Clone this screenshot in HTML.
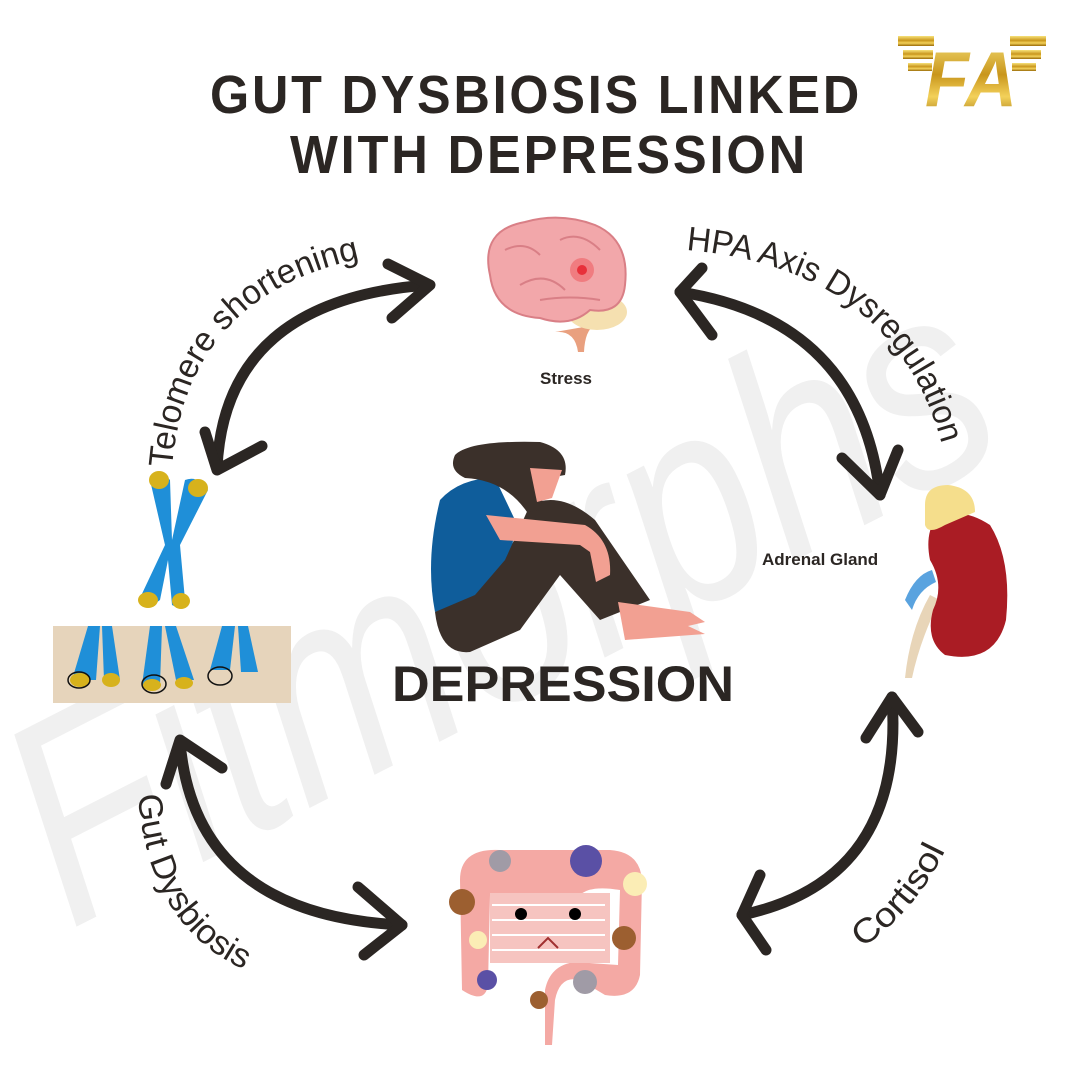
<!DOCTYPE html>
<html><head><meta charset="utf-8"><style>
html,body{margin:0;padding:0;background:#fff}
svg{display:block}
</style></head><body>
<svg width="1080" height="1080" viewBox="0 0 1080 1080" xmlns="http://www.w3.org/2000/svg">
<defs>
<linearGradient id="gold" x1="0" y1="0" x2="0" y2="1">
<stop offset="0" stop-color="#f7e27a"/><stop offset="0.45" stop-color="#c9961c"/><stop offset="0.7" stop-color="#f3d15a"/><stop offset="1" stop-color="#9a6a08"/>
</linearGradient>
<path id="p1" d="M172,468 Q188,275 404,252"/>
<path id="p2" d="M686,250 Q915,270 950,482"/>
<path id="p3" d="M138,795 Q150,955 292,985"/>
<path id="p4" d="M862,948 Q925,905 955,828"/>
</defs>
<rect width="1080" height="1080" fill="#fff"/>
<!-- watermark -->
<text x="0" y="0" transform="translate(70,930) rotate(-27)" font-family="Liberation Sans, sans-serif" font-style="italic" font-size="290" fill="#f0f0f0" textLength="1060" lengthAdjust="spacingAndGlyphs">Fitmorphs</text>

<!-- title -->
<g font-family="Liberation Sans Narrow, Liberation Sans, sans-serif" font-weight="bold" fill="#2b2623">
<text x="210" y="113" font-size="54" textLength="652" lengthAdjust="spacingAndGlyphs" letter-spacing="3">GUT DYSBIOSIS LINKED</text>
<text x="290" y="173" font-size="54" textLength="518" lengthAdjust="spacingAndGlyphs" letter-spacing="3">WITH DEPRESSION</text>
</g>

<!-- logo -->
<g>
<rect x="898" y="36" width="36" height="10" fill="url(#gold)"/>
<rect x="903" y="50" width="30" height="9" fill="url(#gold)"/>
<rect x="908" y="63" width="24" height="8" fill="url(#gold)"/>
<rect x="1010" y="36" width="36" height="10" fill="url(#gold)"/>
<rect x="1011" y="50" width="30" height="9" fill="url(#gold)"/>
<rect x="1012" y="63" width="24" height="8" fill="url(#gold)"/>
<text x="925" y="106" font-family="Liberation Sans, sans-serif" font-weight="bold" font-style="italic" font-size="78" fill="url(#gold)" textLength="92" lengthAdjust="spacingAndGlyphs">FA</text>
</g>

<!-- arrows -->
<g fill="none" stroke="#2b2623" stroke-width="11" stroke-linecap="round" stroke-linejoin="round">
<path d="M217,468 Q225,300 428,285"/>
<path d="M205,432 L217,470 L262,446"/>
<path d="M388,264 L430,285 L392,318"/>
<path d="M680,292 Q860,320 880,495"/>
<path d="M702,268 L680,292 L712,335"/>
<path d="M842,458 L880,495 L898,450"/>
<path d="M180,742 Q195,915 402,925"/>
<path d="M166,784 L180,740 L222,768"/>
<path d="M358,887 L402,925 L364,955"/>
<path d="M742,915 Q905,880 892,697"/>
<path d="M760,875 L742,915 L766,950"/>
<path d="M866,738 L892,697 L918,732"/>
</g>

<!-- curved labels -->
<g font-family="Liberation Sans, DejaVu Sans, sans-serif" font-size="34" fill="#2b2623">
<text><textPath href="#p1" textLength="305" lengthAdjust="spacingAndGlyphs">Telomere shortening</textPath></text>
<text><textPath href="#p2" textLength="345" lengthAdjust="spacingAndGlyphs">HPA Axis  Dysregulation</textPath></text>
<text><textPath href="#p3" textLength="215" lengthAdjust="spacingAndGlyphs">Gut Dysbiosis</textPath></text>
<text><textPath href="#p4" textLength="130" lengthAdjust="spacingAndGlyphs">Cortisol</textPath></text>
</g>

<!-- brain -->
<g>
<path d="M555,332 Q575,330 578,352 L584,352 Q585,330 595,325 Z" fill="#e9a07f"/>
<ellipse cx="597" cy="312" rx="30" ry="18" fill="#f5e0b0"/>
<path d="M490,275 Q480,230 525,222 Q560,212 595,225 Q630,240 625,285 Q622,315 590,310 Q570,328 540,318 Q495,315 490,275 Z" fill="#f2a7aa" stroke="#d97f86" stroke-width="2"/>
<path d="M505,250 Q525,240 540,255 M520,285 Q545,270 565,290 M560,240 Q580,230 600,250 M540,300 Q570,295 600,300" stroke="#d97f86" stroke-width="2" fill="none"/>
<circle cx="582" cy="270" r="12" fill="#ef6a6e" opacity="0.7"/>
<circle cx="582" cy="270" r="5" fill="#e8303a"/>
</g>
<text x="540" y="384" font-family="Liberation Sans, sans-serif" font-weight="bold" font-size="17" fill="#2b2623">Stress</text>

<!-- chromosome X -->
<g>
<path d="M150,480 Q160,468 170,480 L172,540 L185,480 Q198,475 208,490 L180,545 L185,600 Q180,610 172,605 L168,560 L160,600 Q148,610 140,598 L165,545 Z" fill="#1f8fd8"/>
<ellipse cx="159" cy="480" rx="10" ry="9" fill="#d7b21c"/>
<ellipse cx="198" cy="488" rx="10" ry="9" fill="#d7b21c"/>
<ellipse cx="148" cy="600" rx="10" ry="8" fill="#d7b21c"/>
<ellipse cx="181" cy="601" rx="9" ry="8" fill="#d7b21c"/>
</g>
<rect x="53" y="626" width="238" height="77" fill="#e6d4bb"/>
<g fill="#1f8fd8">
<path d="M88,626 L100,626 L96,680 L72,680 Z"/><path d="M102,626 L112,626 L120,680 L104,680 Z"/>
<path d="M150,626 L162,626 L160,685 L142,685 Z"/><path d="M165,626 L176,626 L194,680 L176,680 Z"/>
<path d="M222,626 L235,626 L230,670 L210,670 Z"/><path d="M238,626 L248,626 L258,672 L241,672 Z"/>
</g>
<g fill="#d7b21c"><ellipse cx="80" cy="680" rx="10" ry="7"/><ellipse cx="111" cy="680" rx="9" ry="7"/><ellipse cx="152" cy="685" rx="9" ry="6"/><ellipse cx="184" cy="683" rx="9" ry="6"/></g>
<g fill="none" stroke="#111" stroke-width="1.5"><ellipse cx="79" cy="680" rx="11" ry="8"/><ellipse cx="154" cy="684" rx="12" ry="9"/><ellipse cx="220" cy="676" rx="12" ry="9"/></g>

<!-- woman -->
<g>
<path d="M435,612 Q425,560 440,500 Q460,478 495,478 L515,520 L508,590 Z" fill="#0f5d9b"/>
<path d="M435,612 Q440,655 470,652 L520,630 L560,575 L600,620 L650,600 L595,520 Q560,490 530,505 L505,560 L475,595 Z" fill="#3b302a"/>
<path d="M618,602 L690,612 L705,622 L688,626 L705,634 L625,640 Z" fill="#f2a092"/>
<path d="M486,515 L585,525 Q612,540 610,575 L596,582 L590,552 L580,545 L500,540 Z" fill="#f2a092"/>
<path d="M455,455 Q470,440 540,442 Q570,450 565,475 L548,478 L540,510 L527,512 Q505,480 465,478 Q448,470 455,455 Z" fill="#3b302a"/>
<path d="M530,468 L562,470 L552,498 L537,502 Z" fill="#f2a092"/>
</g>
<text x="392" y="701" font-family="Liberation Sans Narrow, Liberation Sans, sans-serif" font-weight="bold" font-size="50" fill="#2b2623" textLength="342" lengthAdjust="spacingAndGlyphs">DEPRESSION</text>

<!-- adrenal / kidney -->
<g>
<path d="M905,678 Q910,630 930,595 L940,600 Q920,640 912,678 Z" fill="#e8d5b8"/>
<path d="M905,600 Q915,575 932,570 L936,582 Q918,590 912,610 Z" fill="#5aa3df"/>
<path d="M935,520 Q960,505 990,525 Q1012,560 1006,620 Q995,665 945,655 Q925,640 933,610 Q945,585 930,560 Q925,535 935,520 Z" fill="#aa1c24"/>
<path d="M925,505 Q925,485 948,485 Q975,488 975,512 L945,525 Q928,535 925,525 Z" fill="#f5de8c"/>
</g>
<text x="762" y="565" font-family="Liberation Sans, sans-serif" font-weight="bold" font-size="17" fill="#2b2623">Adrenal Gland</text>

<!-- gut -->
<g>
<path d="M460,880 Q460,848 500,850 L610,850 Q640,852 642,880 L640,975 Q635,1000 605,995 L580,980 Q560,975 555,1000 L552,1045 L545,1045 L545,990 Q550,965 575,962 L618,965 L620,890 Q590,885 580,895 L490,895 L488,985 Q485,1005 462,990 Z" fill="#f4a9a4"/>
<rect x="490" y="893" width="120" height="70" fill="#f6c4c0"/>
<g stroke="#fff" stroke-width="2"><line x1="492" y1="905" x2="605" y2="905"/><line x1="492" y1="920" x2="605" y2="920"/><line x1="492" y1="935" x2="605" y2="935"/><line x1="492" y1="950" x2="605" y2="950"/></g>
<circle cx="521" cy="914" r="6" fill="#000"/><circle cx="575" cy="914" r="6" fill="#000"/>
<path d="M538,948 L548,938 L558,948" stroke="#a03030" stroke-width="2" fill="none"/>
<circle cx="500" cy="861" r="11" fill="#a09ba6"/>
<circle cx="586" cy="861" r="16" fill="#5a50a5"/>
<circle cx="635" cy="884" r="12" fill="#fbedb5"/>
<circle cx="462" cy="902" r="13" fill="#9c5f30"/>
<circle cx="478" cy="940" r="9" fill="#fbedb5"/>
<circle cx="624" cy="938" r="12" fill="#9c5f30"/>
<circle cx="487" cy="980" r="10" fill="#5a50a5"/>
<circle cx="585" cy="982" r="12" fill="#a09ba6"/>
<circle cx="539" cy="1000" r="9" fill="#9c5f30"/>
</g>
</svg>
</body></html>
